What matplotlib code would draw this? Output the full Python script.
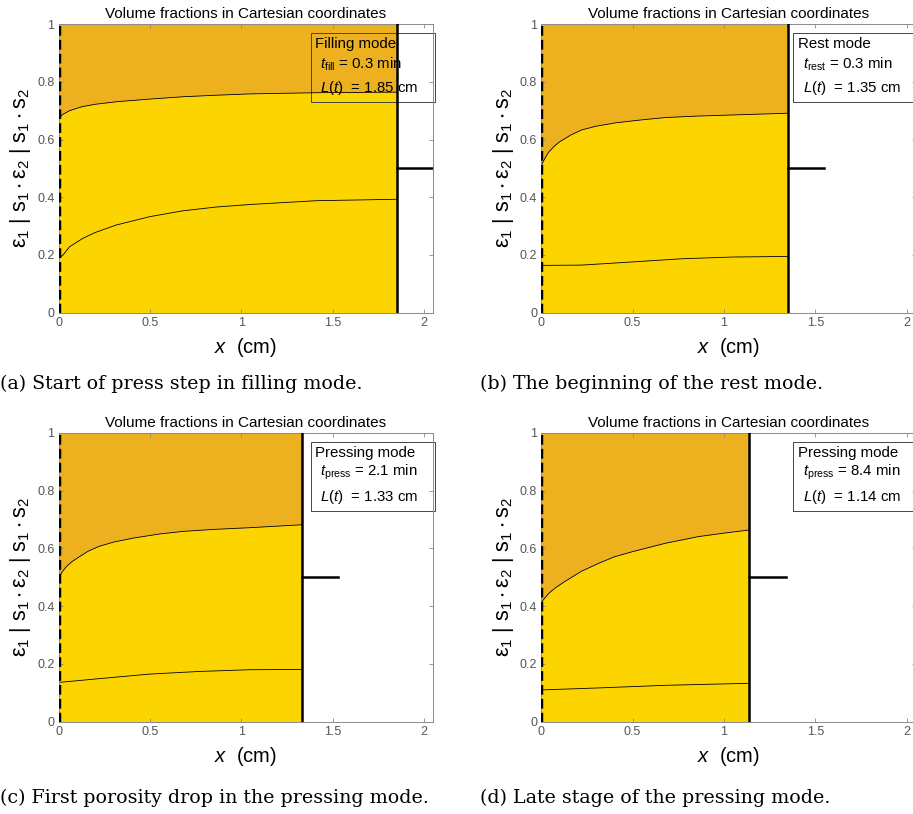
import matplotlib.pyplot as plt
from matplotlib.patches import Rectangle

plt.rcParams['font.family'] = 'Liberation Sans'
plt.rcParams['mathtext.fontset'] = 'custom'
plt.rcParams['mathtext.rm'] = 'Liberation Sans'
plt.rcParams['mathtext.it'] = 'Liberation Sans:italic'
plt.rcParams['mathtext.bf'] = 'Liberation Sans:bold'

# (a) filling mode
a_x_up = [0, 0.02, 0.06, 0.13, 0.2, 0.32, 0.5, 0.68, 0.85, 1.05, 1.41, 1.85]
a_up = [0.673, 0.686, 0.700, 0.714, 0.722, 0.731, 0.740, 0.748, 0.753, 0.758, 0.762, 0.764]
a_x_low = [0, 0.03, 0.06, 0.133, 0.2, 0.316, 0.5, 0.68, 0.86, 1.05, 1.41, 1.85]
a_low = [0.185, 0.205, 0.229, 0.258, 0.278, 0.304, 0.333, 0.353, 0.366, 0.375, 0.388, 0.393]

# (b) rest mode
b_x_up = [0, 0.01, 0.02, 0.04, 0.07, 0.1, 0.16, 0.22, 0.3, 0.41, 0.55, 0.68, 0.85, 1.05, 1.2, 1.35]
b_up = [0.509, 0.523, 0.535, 0.556, 0.576, 0.592, 0.615, 0.633, 0.646, 0.658, 0.668, 0.676,
        0.681, 0.685, 0.688, 0.691]
b_x_low = [0, 0.22, 0.5, 0.77, 1.05, 1.35]
b_low = [0.164, 0.165, 0.176, 0.187, 0.193, 0.195]

# (c) pressing mode, early
c_x_up = [0, 0.01, 0.02, 0.042, 0.07, 0.1, 0.16, 0.22, 0.3, 0.41, 0.55, 0.68, 0.85, 1.05, 1.33]
c_up = [0.497, 0.509, 0.520, 0.537, 0.553, 0.566, 0.590, 0.607, 0.622, 0.636, 0.650, 0.659,
        0.666, 0.672, 0.682]
c_x_low = [0, 0.22, 0.5, 0.77, 1.05, 1.33]
c_low = [0.136, 0.149, 0.165, 0.174, 0.180, 0.181]

# (d) pressing mode, late
d_x_up = [0, 0.042, 0.08, 0.13, 0.22, 0.316, 0.4, 0.5, 0.68, 0.86, 1.0, 1.14]
d_up = [0.414, 0.445, 0.465, 0.486, 0.521, 0.549, 0.571, 0.589, 0.618, 0.641, 0.653, 0.664]
d_x_low = [0, 0.316, 0.68, 1.14]
d_low = [0.110, 0.117, 0.126, 0.133]

lengths = [1.85, 1.35, 1.33, 1.14]
modes = ["Filling mode", "Rest mode", "Pressing mode", "Pressing mode"]
t_names = ["fill", "rest", "press", "press"]
t_values = ["0.3", "0.3", "2.1", "8.4"]
captions = ["(a) Start of press step in filling mode.",
            "(b) The beginning of the rest mode.",
            "(c) First porosity drop in the pressing mode.",
            "(d) Late stage of the pressing mode."]

curves = [(a_x_up, a_up, a_x_low, a_low),
          (b_x_up, b_up, b_x_low, b_low),
          (c_x_up, c_up, c_x_low, c_low),
          (d_x_up, d_up, d_x_low, d_low)]

ORANGE = '#EDB120'
YELLOW = '#FCD500'
GRAY = '#8a8a8a'

fig = plt.figure(figsize=(9.13, 8.14), dpi=100)

# axes positions (figure fraction)
positions = [(0.0643, 0.6158), (0.5929, 0.6158), (0.0643, 0.1134), (0.5929, 0.1134)]
caption_pos = [(0.0, 0.528), (0.526, 0.528), (0.0, 0.0197), (0.526, 0.0197)]

for i in range(4):
    ax = fig.add_axes([positions[i][0], positions[i][1], 0.41, 0.3547])
    x_up, up, x_low, low = curves[i]
    L = lengths[i]

    ax.fill_between(x_up, 0, up, color=YELLOW, lw=0, zorder=0.5)
    ax.fill_between(x_up, up, 1, color=ORANGE, lw=0, zorder=0.5)
    ax.plot(x_up, up, color='k', lw=0.6, zorder=2)
    ax.plot(x_low, low, color='k', lw=0.6, zorder=2)

    # walls and piston
    ax.plot([0, 0], [0, 1], color='k', lw=2.5, dashes=(2.8, 1.2), zorder=3)
    ax.plot([L, L], [0, 1], color='k', lw=1.8, zorder=3)
    ax.plot([L, L + 0.2], [0.5, 0.5], color='k', lw=1.8, zorder=3)

    ax.set_xlim(0, 2.05)
    ax.set_ylim(0, 1)
    ax.set_xticks([0, 0.5, 1, 1.5, 2])
    ax.set_xticklabels(['0', '0.5', '1', '1.5', '2'])
    ax.set_yticks([0, 0.2, 0.4, 0.6, 0.8, 1])
    ax.set_yticklabels(['0', '0.2', '0.4', '0.6', '0.8', '1'])
    ax.tick_params(direction='in', length=3, width=0.6, color=GRAY,
                   labelcolor='#555555', labelsize=9, top=True, right=True, pad=3)
    for sp in ax.spines.values():
        sp.set_color(GRAY)
        sp.set_linewidth(0.7)

    ax.set_title("Volume fractions in Cartesian coordinates", fontsize=11, pad=4)
    ax.set_xlabel(r'$\it{x}$  (cm)', fontsize=14.5, labelpad=5)
    ax.set_ylabel(r'$\mathregular{\varepsilon_1\ |\ s_1\cdot\varepsilon_2\ |\ s_1\cdot s_2}$',
                  fontsize=15.5, labelpad=3)

    # info box
    ax.add_patch(Rectangle((0.673, 0.731), 0.332, 0.237, transform=ax.transAxes,
                           fill=False, edgecolor='#444444', lw=0.7, clip_on=False, zorder=1))
    ax.text(0.685, 0.931, modes[i], transform=ax.transAxes, fontsize=10.8,
            va='center', ha='left', zorder=1)
    ax.text(0.698, 0.862, r'$\it{t}_{\rm{%s}}$ = %s min' % (t_names[i], t_values[i]),
            transform=ax.transAxes, fontsize=10.8, va='center', ha='left', zorder=1)
    ax.text(0.698, 0.778, r'$\it{L(t)}$  = %.2f cm' % L, transform=ax.transAxes,
            fontsize=10.8, va='center', ha='left', zorder=1)

    fig.text(caption_pos[i][0], caption_pos[i][1], captions[i], family='DejaVu Serif',
             fontsize=13.7, va='center', ha='left')

fig.savefig('out.png', dpi=100)
